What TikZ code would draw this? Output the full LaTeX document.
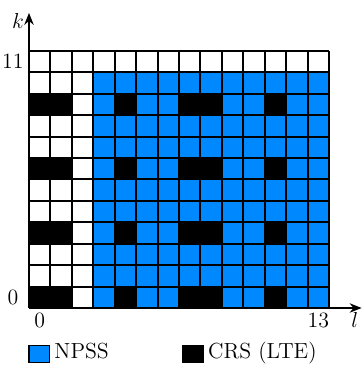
\documentclass[tikz,border=0pt]{standalone}
\usepackage{xcolor}
\usepackage{tikz}
\usetikzlibrary{positioning,arrows.meta}

\definecolor{npssblue}{RGB}{0,136,255}

\begin{document}
\begin{tikzpicture}[x=0.5cm, y=0.5cm, font=\fontsize{14.5}{17}\selectfont,
  gridline/.style={line width=1.3pt, step=0.5cm},
  axis/.style={-{Stealth[length=2.8mm, width=2.2mm]}, line width=1pt},
  legbox/.style={draw, line width=1pt, minimum width=0.47cm, minimum height=0.4cm, inner sep=0pt},
  legtxt/.style={inner sep=1pt, text height=0.65em, text depth=0pt}]
\useasboundingbox (-1.353,-2.66) rectangle (15.585,14.37);
% resource grid: NPSS region, then CRS symbols
\fill[npssblue] (3,0) rectangle (14,11);
\foreach \k in {0,3,6,9}
  \foreach \l in {0,1,4,7,8,11}
    \fill[black] (\l,\k) rectangle ++(1,1);
\draw[gridline] (0,0) grid (14,12);
% axes
\coordinate (orig) at (0,0);
\coordinate (ktip) at (0,13.77);
\coordinate (ltip) at (15.52,0);
\draw[axis] (orig) -- (ktip);
\draw[axis] (orig) -- (ltip);
\node (klab) at (-0.51,13.4) {$k$};
\node (llab) at (15.2,-0.56) {$l$};
\node (k11) at (-0.75,11.5) {11};
\node (k0) at (-0.75,0.5) {0};
\node (l0) at (0.5,-0.56) {0};
\node (l13) at (13.5,-0.56) {13};
% legend
\node[legbox, fill=npssblue] (npssbox) at (0.48,-2.15) {};
\node[legtxt, right=0.06cm of npssbox] (npsstxt) {NPSS};
\node[legbox, fill=black] (crsbox) at (7.65,-2.15) {};
\node[legtxt, right=0.06cm of crsbox] (crstxt) {CRS (LTE)};
\end{tikzpicture}
\end{document}
